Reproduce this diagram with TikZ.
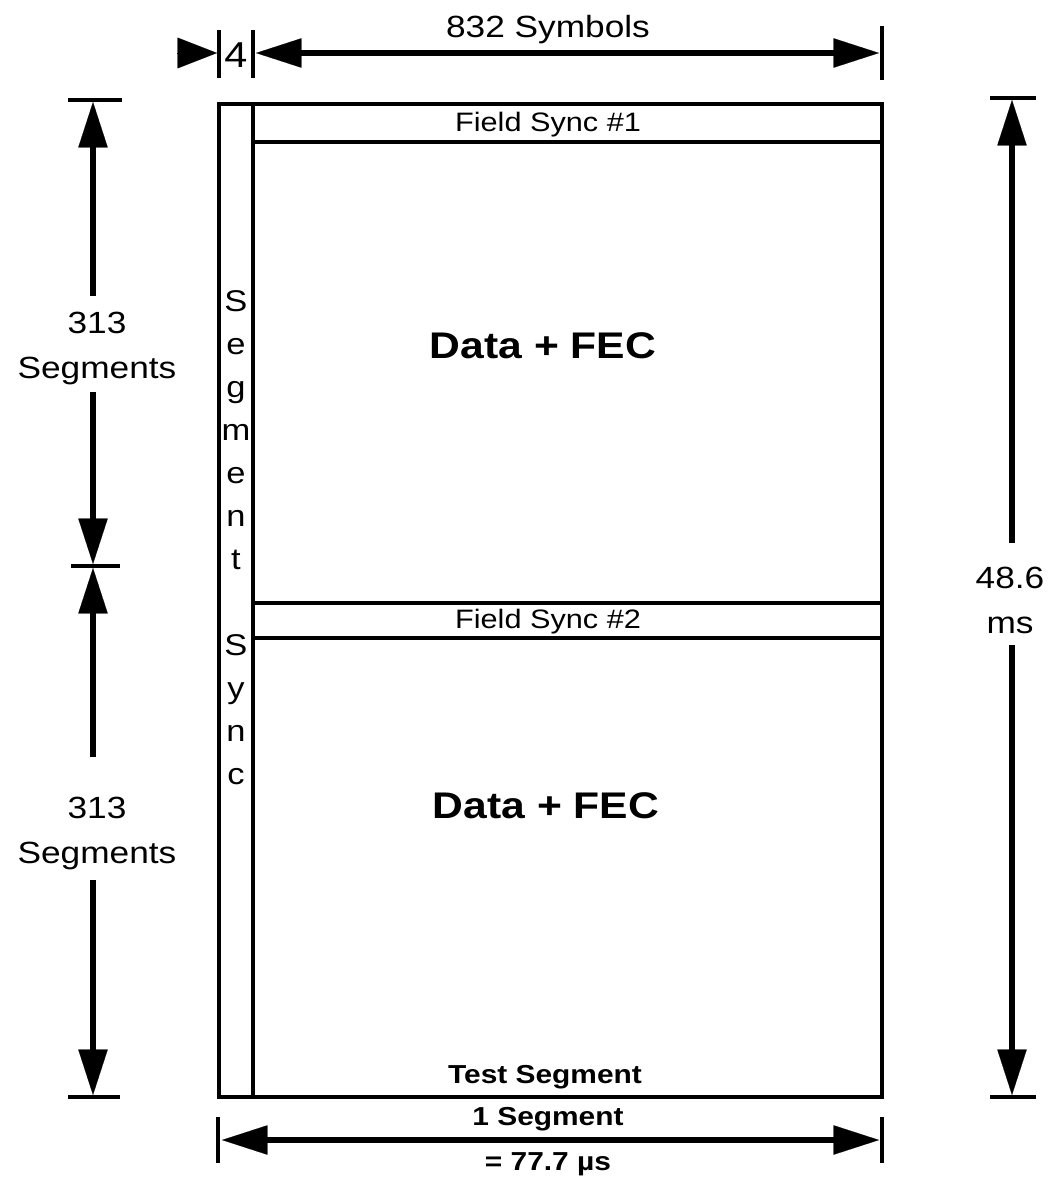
\documentclass[tikz,border=0pt]{standalone}
\usepackage{fontspec}
\setmainfont{Liberation Sans}[FakeStretch=1.15]
\usetikzlibrary{arrows.meta}

\begin{document}
\begin{tikzpicture}[x=0.75pt,y=-0.75pt,
  frame/.style={line width=2.4pt},
  tickline/.style={line width=2.5pt},
  shaft/.style={line width=4.5pt},
  >={Triangle[length=34pt,width=22pt,line width=0.1pt]},
  lbl/.style={inner sep=0pt,anchor=base,font=\fontsize{23pt}{27pt}\selectfont},
  biglbl/.style={lbl,font=\fontsize{27pt}{31pt}\selectfont},
  fslbl/.style={lbl,font=\fontsize{20pt}{24pt}\selectfont},
  datalbl/.style={lbl,font=\fontsize{27.8pt}{32pt}\selectfont\bfseries},
  boldlbl/.style={lbl,font=\fontsize{19.5pt}{23pt}\selectfont\bfseries},
  vletter/.style={lbl,font=\fontsize{22.5pt}{26pt}\selectfont},
]
\useasboundingbox (0,0) rectangle (1051,1181);

% ---- frame ----
\coordinate (NW) at (219,104);
\coordinate (SE) at (882,1097);
\coordinate (colT) at (253,104);
\coordinate (colB) at (253,1097);
\coordinate (fs1L) at (253,142);
\coordinate (fs1R) at (882,142);
\coordinate (fs2aL) at (253,603);
\coordinate (fs2aR) at (882,603);
\coordinate (fs2bL) at (253,638);
\coordinate (fs2bR) at (882,638);
\draw[frame] (NW) rectangle (SE);
\draw[frame] (colT) -- (colB);
\draw[frame] (fs1L) -- (fs1R);
\draw[frame] (fs2aL) -- (fs2aR);
\draw[frame] (fs2bL) -- (fs2bR);

% ---- texts inside the frame ----
\node[fslbl] (fs1) at (548,131) {Field Sync \#1};
\node[fslbl] (fs2) at (548,628) {Field Sync \#2};
\node[datalbl] (data1) at (543,358) {Data + FEC};
\node[datalbl] (data2) at (546,818) {Data + FEC};
\node[boldlbl] (test) at (545,1083) {Test Segment};

% vertical "Segment Sync" in the sync column
\foreach \ch [count=\i] in {S,e,g,m,e,n,t}
  \node[vletter] (segl\i) at (236,311+43*\i-43) {\ch};
\foreach \ch [count=\i] in {S,y,n,c}
  \node[vletter] (syncl\i) at (236,655+43*\i-43) {\ch};

% ---- top dimension ----
\coordinate (tA1) at (219,30);  \coordinate (tA2) at (219,78);
\coordinate (tB1) at (253,30);  \coordinate (tB2) at (253,78);
\coordinate (tC1) at (882,26);  \coordinate (tC2) at (882,80);
\draw[tickline] (tA1) -- (tA2);
\draw[tickline] (tB1) -- (tB2);
\draw[tickline] (tC1) -- (tC2);
% lone arrowhead pointing at the 4-symbol sync width
\coordinate (smallS) at (177,53);
\coordinate (smallE) at (217,53);
\draw[line width=0.1pt,-{Triangle[length=29.5pt,width=23pt,line width=0.1pt]}] (smallS) -- (smallE);
\coordinate (symL) at (256,53);
\coordinate (symR) at (879,53);
\draw[shaft,<->] (symL) -- (symR);
\node[biglbl] (four) at (236,68) {4};
\node[lbl] (symbols) at (548,38) {832 Symbols};

% ---- left dimension ----
\coordinate (lT1) at (68,100);   \coordinate (lT2) at (122,100);
\coordinate (lM1) at (71,566);   \coordinate (lM2) at (120,566);
\coordinate (lB1) at (68,1097);  \coordinate (lB2) at (120,1097);
\draw[tickline] (lT1) -- (lT2);
\draw[tickline] (lM1) -- (lM2);
\draw[tickline] (lB1) -- (lB2);
\coordinate (l1top) at (93,102);
\coordinate (l1gapA) at (93,296);
\coordinate (l1gapB) at (93,392);
\coordinate (l1bot) at (93,564);
\coordinate (l2top) at (93,568);
\coordinate (l2gapA) at (93,757);
\coordinate (l2gapB) at (93,880);
\coordinate (l2bot) at (93,1095);
\draw[shaft,->] (l1gapA) -- (l1top);
\draw[shaft,->] (l1gapB) -- (l1bot);
\draw[shaft,->] (l2gapA) -- (l2top);
\draw[shaft,->] (l2gapB) -- (l2bot);
\node[lbl] (n313a) at (97,333) {313};
\node[lbl] (sega) at (97,378) {Segments};
\node[lbl] (n313b) at (97,818) {313};
\node[lbl] (segb) at (97,863) {Segments};

% ---- right dimension ----
\coordinate (rT1) at (990,98);   \coordinate (rT2) at (1036,98);
\coordinate (rB1) at (990,1097); \coordinate (rB2) at (1036,1097);
\draw[tickline] (rT1) -- (rT2);
\draw[tickline] (rB1) -- (rB2);
\coordinate (rtop) at (1012,100);
\coordinate (rgapA) at (1012,543);
\coordinate (rgapB) at (1012,645);
\coordinate (rbot) at (1012,1095);
\draw[shaft,->] (rgapA) -- (rtop);
\draw[shaft,->] (rgapB) -- (rbot);
\node[lbl] (ms1) at (1010,588) {48.6};
\node[lbl] (ms2) at (1010,633) {ms};

% ---- bottom dimension ----
\coordinate (bL1) at (218,1117); \coordinate (bL2) at (218,1163);
\coordinate (bR1) at (882,1117); \coordinate (bR2) at (882,1163);
\draw[tickline] (bL1) -- (bL2);
\draw[tickline] (bR1) -- (bR2);
\coordinate (bL) at (222,1140);
\coordinate (bR) at (879,1140);
\draw[shaft,<->] (bL) -- (bR);
\node[boldlbl] (oneseg) at (548,1125) {1 Segment};
\node[boldlbl] (dur) at (548,1170) {= 77.7 µs};
\end{tikzpicture}
\end{document}
